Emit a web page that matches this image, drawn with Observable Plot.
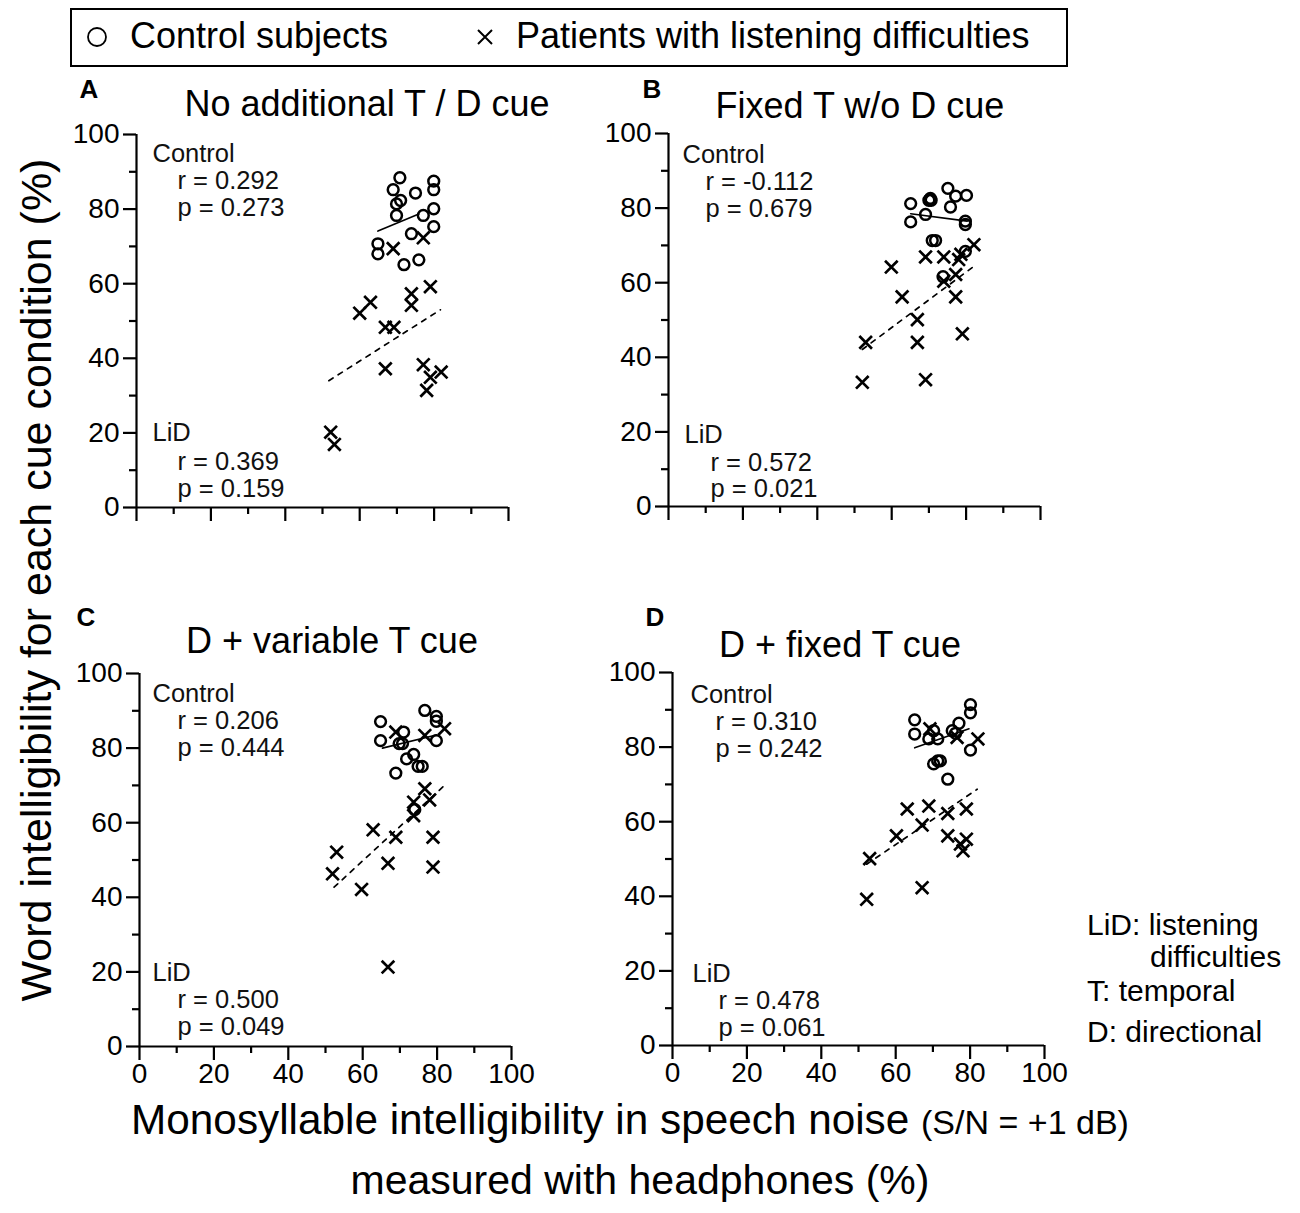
<!DOCTYPE html>
<html><head><meta charset="utf-8">
<script src="https://cdn.jsdelivr.net/npm/d3@7"></script>
<script src="https://cdn.jsdelivr.net/npm/@observablehq/plot@0.6"></script>
<style>
body{margin:0;background:#fff;font-family:"Liberation Sans",Arial,Helvetica,sans-serif;color:#000}
#root{position:relative;width:1300px;height:1213px;overflow:hidden;background:#fff}
.abs{position:absolute;white-space:nowrap;line-height:1}
</style></head><body><div id="root"></div>
<script>
// ---------- data ----------
const titles = ["No additional T / D cue", "Fixed T w/o D cue", "D + variable T cue", "D + fixed T cue"];
const letters = ["A", "B", "C", "D"];
const xMajor = [0, 20, 40, 60, 80, 100];
const xMinor = [10, 30, 50, 70, 90];
const yMajor = [0, 20, 40, 60, 80, 100];
const yMinor = [10, 30, 50, 70, 90];

// [monosyllable %, word intelligibility %]
const controlA = [[70.8,88.4],[69.0,85.2],[75.0,84.3],[79.9,87.5],[79.9,85.2],[71.0,82.3],[69.9,81.4],[79.9,80.1],[69.9,78.3],[77.1,78.3],[79.9,75.3],[73.9,73.4],[64.9,70.7],[64.9,68.0],[71.9,65.1],[75.9,66.4]];
const lidA = [[77.1,72.3],[69.0,69.4],[79.0,59.2],[73.9,57.3],[73.9,54.2],[62.9,55.0],[60.0,52.1],[66.9,48.3],[69.2,48.3],[66.9,37.2],[77.1,38.3],[79.0,34.9],[81.9,36.3],[78.0,31.4],[52.2,20.2],[53.2,16.9]];
const ctrlFitA = [[64.9,74.1],[75.9,78.7]];
const lidFitA = [[51.7,34.0],[81.7,53.0]];

const controlB = [[75.1,85.3],[77.2,83.2],[80.1,83.4],[65.1,81.2],[70.0,82.1],[70.6,82.1],[75.8,80.3],[69.1,78.3],[65.1,76.3],[79.8,76.5],[79.8,75.6],[70.9,71.3],[71.8,71.3],[79.8,68.4],[73.8,61.6],[70.4,82.6]];
const lidB = [[82.1,70.2],[69.1,66.9],[74.0,66.9],[78.0,66.2],[78.6,67.6],[59.9,64.2],[77.2,62.2],[74.0,60.4],[62.8,56.2],[77.2,56.2],[66.9,50.1],[53.0,44.0],[66.9,44.0],[79.0,46.3],[52.1,33.3],[69.1,34.0]];
const ctrlFitB = [[65.1,78.5],[80.3,76.5]];
const lidFitB = [[52.1,42.1],[82.1,64.4]];

const controlC = [[76.7,90.1],[79.8,88.5],[79.8,87.2],[64.8,87.1],[71.0,84.3],[64.8,82.0],[79.8,82.0],[69.8,81.2],[70.7,81.2],[73.7,78.3],[71.8,77.1],[74.9,75.1],[76.0,75.1],[68.9,73.3],[74.0,63.5]];
const lidC = [[82.0,85.2],[68.9,84.3],[76.7,83.4],[76.7,69.1],[78.0,66.1],[73.7,65.5],[73.7,61.9],[62.8,58.1],[68.9,56.1],[78.9,56.1],[53.0,52.1],[66.8,49.1],[78.9,48.1],[51.9,46.3],[59.7,42.1],[66.8,21.3]];
const ctrlFitC = [[65.3,80.0],[79.8,83.5]];
const lidFitC = [[52.3,42.7],[82.0,70.0]];

const controlD = [[80.1,91.4],[80.1,89.2],[65.1,87.3],[77.0,86.4],[65.1,83.5],[70.2,84.4],[75.2,84.4],[76.1,83.7],[68.9,82.2],[71.3,82.2],[80.1,79.2],[70.2,75.5],[71.3,76.3],[72.0,76.3],[74.0,71.4]];
const lidD = [[69.2,84.9],[76.5,82.6],[82.1,82.2],[63.1,63.4],[68.9,64.2],[74.0,62.2],[79.0,63.4],[67.1,59.1],[60.2,56.2],[74.0,56.2],[79.0,55.3],[77.4,54.0],[78.1,52.2],[53.0,50.1],[67.1,42.3],[52.2,39.2]];
const ctrlFitD = [[65.1,79.8],[79.7,84.9]];
const lidFitD = [[52.2,48.6],[81.9,68.7]];

const statsControl = [["r = 0.292","p = 0.273"],["r = -0.112","p = 0.679"],["r = 0.206","p = 0.444"],["r = 0.310","p = 0.242"]];
const statsLiD = [["r = 0.369","p = 0.159"],["r = 0.572","p = 0.021"],["r = 0.500","p = 0.049"],["r = 0.478","p = 0.061"]];
const legendLabels = ["Control subjects", "Patients with listening difficulties"];
const yTitle = "Word intelligibility for each cue condition (%)";
const xTitle1 = "Monosyllable intelligibility in speech noise ";
const xTitle1b = "(S/N = +1 dB)";
const xTitle2 = "measured with headphones (%)";
const notes = ["LiD: listening", "difficulties", "T: temporal", "D: directional"];

// ---------- layout ----------
const FONT = '"Liberation Sans", Arial, Helvetica, sans-serif';
const root = document.getElementById("root");
function txt(s, x, y, size, o = {}) {
  const d = document.createElement("div");
  d.className = "abs";
  d.textContent = s;
  d.style.fontSize = size + "px";
  d.style.left = x + "px";
  d.style.top = (y - 0.5 * size) + "px";
  if (o.bold) d.style.fontWeight = "bold";
  if (o.center) d.style.transform = "translateX(-50%)";
  if (o.rotate) { d.style.top = y + "px"; d.style.transform = "translate(-50%,-50%) rotate(-90deg)"; }
  root.appendChild(d);
  return d;
}

const panels = [
  {fx:136, fy:134, showX:false, control:controlA, lid:lidA, cfit:ctrlFitA, lfit:lidFitA,
   title:[367,104], letter:[89,89], ann:[[16,19],[41,46],[41,73],[16,298],[41,327],[41,354]]},
  {fx:668, fy:133, showX:false, control:controlB, lid:lidB, cfit:ctrlFitB, lfit:lidFitB,
   title:[860,106], letter:[652,89], ann:[[14,21],[37,48],[37,75],[16,301],[42,329],[42,355]]},
  {fx:139, fy:673, showX:true, control:controlC, lid:lidC, cfit:ctrlFitC, lfit:lidFitC,
   title:[332,641], letter:[86,617], ann:[[13,20],[38,47],[38,74],[13,299],[38,326],[38,353]]},
  {fx:672, fy:672, showX:true, control:controlD, lid:lidD, cfit:ctrlFitD, lfit:lidFitD,
   title:[840,645], letter:[655,617], ann:[[18,22],[43,49],[43,76],[20,301],[46,328],[46,355]]}
];

panels.forEach((p, i) => {
  const mL = 100, mT = 20, mR = 40, mB = 60, W = 372, H = 373;
  const lines = ["Control", statsControl[i][0], statsControl[i][1], "LiD", statsLiD[i][0], statsLiD[i][1]];
  const annMarks = lines.map((s, k) => Plot.text([s], {text: d => d, frameAnchor: "top-left", dx: p.ann[k][0], dy: p.ann[k][1],
    textAnchor: "start", lineAnchor: "middle", fontSize: 25.5, fill: "#111"}));
  const svg = Plot.plot({
    width: mL + W + mR, height: mT + H + mB,
    marginLeft: mL, marginTop: mT, marginRight: mR, marginBottom: mB,
    x: {domain: [0, 100]}, y: {domain: [0, 100]},
    style: {fontFamily: FONT, background: "transparent", color: "#000"},
    marks: [
      Plot.axisY({ticks: yMajor, tickSize: 13, tickPadding: 4, fontSize: 28, strokeWidth: 2.2, label: null, anchor: "left", tickFormat: d => d}),
      Plot.axisY({ticks: yMinor, tickSize: 7, strokeWidth: 2.2, label: null, anchor: "left", tickFormat: () => ""}),
      Plot.axisX({ticks: xMajor, tickSize: 14, tickPadding: 3, fontSize: 28, strokeWidth: 2.2, label: null, anchor: "bottom", tickFormat: p.showX ? (d => d) : (() => "")}),
      Plot.axisX({ticks: xMinor, tickSize: 7, strokeWidth: 2.2, label: null, anchor: "bottom", tickFormat: () => ""}),
      Plot.ruleX([0], {y1: 0, y2: 100, strokeWidth: 2.2}),
      Plot.ruleY([0], {x1: 0, x2: 100, strokeWidth: 2.2}),
      Plot.line(p.cfit, {x: d => d[0], y: d => d[1], strokeWidth: 1.6}),
      Plot.line(p.lfit, {x: d => d[0], y: d => d[1], strokeWidth: 1.7, strokeDasharray: "5,6"}),
      Plot.dot(p.control, {x: d => d[0], y: d => d[1], r: 5.4, stroke: "black", strokeWidth: 2.5, fill: "none"}),
      Plot.dot(p.lid, {x: d => d[0], y: d => d[1], symbol: "times", r: 5.8, stroke: "black", strokeWidth: 2.7}),
      ...annMarks
    ]
  });
  const wrap = document.createElement("div");
  wrap.style.position = "absolute";
  wrap.style.left = (p.fx - mL) + "px";
  wrap.style.top = (p.fy - mT) + "px";
  wrap.appendChild(svg);
  root.appendChild(wrap);
  txt(titles[i], p.title[0], p.title[1], 36, {center: true});
  txt(letters[i], p.letter[0], p.letter[1], 26, {center: true, bold: true});
});

// legend box
const box = document.createElement("div");
box.style.cssText = "position:absolute;left:70px;top:8px;width:994px;height:55px;border:2px solid #000;";
root.appendChild(box);
const sym = document.createElementNS("http://www.w3.org/2000/svg", "svg");
sym.setAttribute("width", "1300"); sym.setAttribute("height", "70");
sym.style.cssText = "position:absolute;left:0;top:0;overflow:visible";
sym.innerHTML = '<circle cx="97" cy="37" r="9" fill="none" stroke="#000" stroke-width="1.8"/>' +
  '<path d="M478,30L492,44M492,30L478,44" stroke="#000" stroke-width="2"/>';
root.appendChild(sym);
txt(legendLabels[0], 130, 36, 36);
txt(legendLabels[1], 516, 36, 36);

// axis titles
txt(yTitle, 36, 580, 43, {rotate: true});
const xt = txt(xTitle1, 630, 1120, 42.3, {center: true});
const sm = document.createElement("span");
sm.textContent = xTitle1b; sm.style.fontSize = "34px";
xt.appendChild(sm);
txt(xTitle2, 640, 1180, 41, {center: true});

// notes
txt(notes[0], 1087, 925, 30);
txt(notes[1], 1150, 957, 30);
txt(notes[2], 1087, 991, 30);
txt(notes[3], 1087, 1032, 30);
</script></body></html>
